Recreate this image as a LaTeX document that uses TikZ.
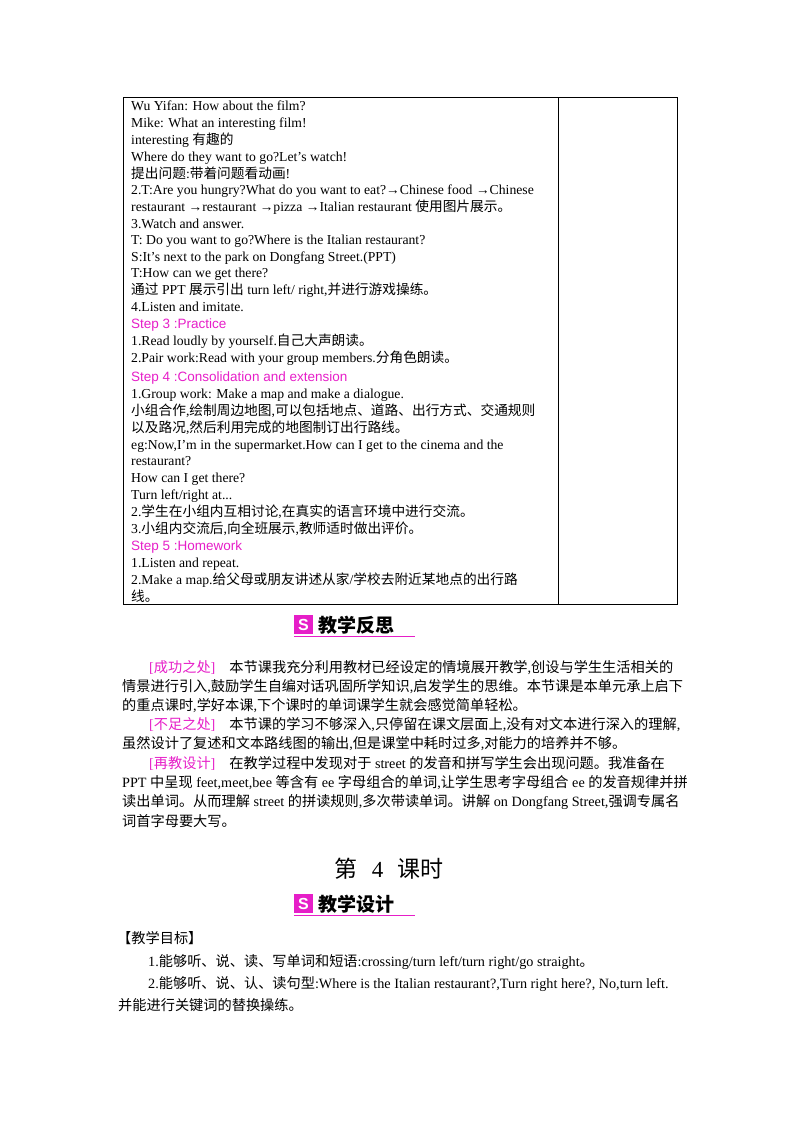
\documentclass[tikz,border=0pt]{standalone}
\usepackage{fontspec}
\setmainfont{Liberation Serif}
\setsansfont{Liberation Sans}
\newfontfamily\cjk{Noto Sans CJK SC}
\XeTeXinterchartokenstate=1
\newXeTeXintercharclass\cjkclass
\count255="4E00
\loop\ifnum\count255<"A000 \XeTeXcharclass\count255=\cjkclass \advance\count255 by 1 \repeat
\count255="3000
\loop\ifnum\count255<"3040 \XeTeXcharclass\count255=\cjkclass \advance\count255 by 1 \repeat
\count255="FF00
\loop\ifnum\count255<"FFF0 \XeTeXcharclass\count255=\cjkclass \advance\count255 by 1 \repeat
\XeTeXinterchartoks 0 \cjkclass={\begingroup\cjk}
\XeTeXinterchartoks 4095 \cjkclass={\begingroup\cjk}
\XeTeXinterchartoks \cjkclass 0={\endgroup}
\XeTeXinterchartoks \cjkclass 4095={\endgroup}
\definecolor{mag}{RGB}{230,30,200}
\begin{document}
\begin{tikzpicture}[x=1pt,y=-1pt,
  tl/.style={anchor=base west,inner sep=0pt,font=\fontsize{13.7}{15}\selectfont},
  pl/.style={anchor=base west,inner sep=0pt,font=\fontsize{14.2}{15}\selectfont},
  st/.style={tl,text=mag,font=\sffamily\fontsize{13.5}{15}\selectfont},
  hd/.style={anchor=west,inner sep=0pt,font=\cjk\bfseries\fontsize{19}{21}\selectfont}]
\useasboundingbox (0,0) rectangle (800,1132);
\draw[line width=0.9pt] (123,97) rectangle (677,604);
\draw[line width=0.9pt] (558,97) -- (558,604);
\foreach \y/\t [count=\i] in {
 110/{Wu Yifan: How about the film?},
 127/{Mike: What an interesting film!},
 144/{interesting 有趣的},
 161/{Where do they want to go?Let's watch!},
 178/{提出问题:带着问题看动画!},
 194/{2.T:Are you hungry?What do you want to eat?→Chinese food →Chinese},
 211/{restaurant →restaurant →pizza →Italian restaurant 使用图片展示。},
 228/{3.Watch and answer.},
 244/{T: Do you want to go?Where is the Italian restaurant?},
 261/{S:It's next to the park on Dongfang Street.(PPT)},
 277/{T:How can we get there?},
 294/{通过 PPT 展示引出 turn left/ right,并进行游戏操练。},
 311/{4.Listen and imitate.},
 345/{1.Read loudly by yourself.自己大声朗读。},
 362/{2.Pair work:Read with your group members.分角色朗读。},
 398/{1.Group work: Make a map and make a dialogue.},
 415/{小组合作,绘制周边地图,可以包括地点、道路、出行方式、交通规则},
 432/{以及路况,然后利用完成的地图制订出行路线。},
 449/{eg:Now,I'm in the supermarket.How can I get to the cinema and the},
 465/{restaurant?},
 482/{How can I get there?},
 499/{Turn left/right at...},
 516/{2.学生在小组内互相讨论,在真实的语言环境中进行交流。},
 533/{3.小组内交流后,向全班展示,教师适时做出评价。},
 567/{1.Listen and repeat.},
 584/{2.Make a map.给父母或朋友讲述从家/学校去附近某地点的出行路},
 601/{线。}}
 \node[tl] (t\i) at (131,\y) {\t};
\node[st] (s3) at (131,328) {Step 3 :Practice};
\node[st] (s4) at (131,381) {Step 4 :Consolidation and extension};
\node[st] (s5) at (131,550) {Step 5 :Homework};
% banner 1
\fill[mag] (294,615) rectangle (313,634);
\node[text=white,font=\sffamily\bfseries\fontsize{16}{16}\selectfont,inner sep=0pt] (ic1) at (303.5,624.5) {S};
\node[hd] (h1) at (318,625) {教学反思};
\draw[mag,line width=0.9pt] (294,636) -- (415,636);
\foreach \y/\t [count=\i] in {
 672/{\hspace*{27pt}\textcolor{mag}{[成功之处]}\hspace{14pt}本节课我充分利用教材已经设定的情境展开教学,创设与学生生活相关的},
 691/{情景进行引入,鼓励学生自编对话巩固所学知识,启发学生的思维。本节课是本单元承上启下},
 710/{的重点课时,学好本课,下个课时的单词课学生就会感觉简单轻松。},
 729/{\hspace*{27pt}\textcolor{mag}{[不足之处]}\hspace{14pt}本节课的学习不够深入,只停留在课文层面上,没有对文本进行深入的理解,},
 748/{虽然设计了复述和文本路线图的输出,但是课堂中耗时过多,对能力的培养并不够。},
 768/{\hspace*{27pt}\textcolor{mag}{[再教设计]}\hspace{14pt}在教学过程中发现对于 street 的发音和拼写学生会出现问题。我准备在},
 787/{PPT 中呈现 feet,meet,bee 等含有 ee 字母组合的单词,让学生思考字母组合 ee 的发音规律并拼},
 806/{读出单词。从而理解 street 的拼读规则,多次带读单词。讲解 on Dongfang Street,强调专属名},
 826/{词首字母要大写。}}
 \node[pl] (p\i) at (122,\y) {\t};
\node[inner sep=0pt,font=\fontsize{23}{26}\selectfont] (ks) at (389,869) {第\hspace{14pt}4\hspace{14pt}课时};
% banner 2
\fill[mag] (294,894) rectangle (313,913);
\node[text=white,font=\sffamily\bfseries\fontsize{16}{16}\selectfont,inner sep=0pt] (ic2) at (303.5,903.5) {S};
\node[hd] (h2) at (318,904) {教学设计};
\draw[mag,line width=0.9pt] (294,915) -- (415,915);
\node[pl] (g0) at (117,943) {【教学目标】};
\node[pl] (g1) at (148,966) {1.能够听、说、读、写单词和短语:crossing/turn left/turn right/go straight。};
\node[pl] (g2) at (148,988) {2.能够听、说、认、读句型:Where is the Italian restaurant?,Turn right here?, No,turn left.};
\node[pl] (g3) at (118,1010) {并能进行关键词的替换操练。};
\end{tikzpicture}
\end{document}
